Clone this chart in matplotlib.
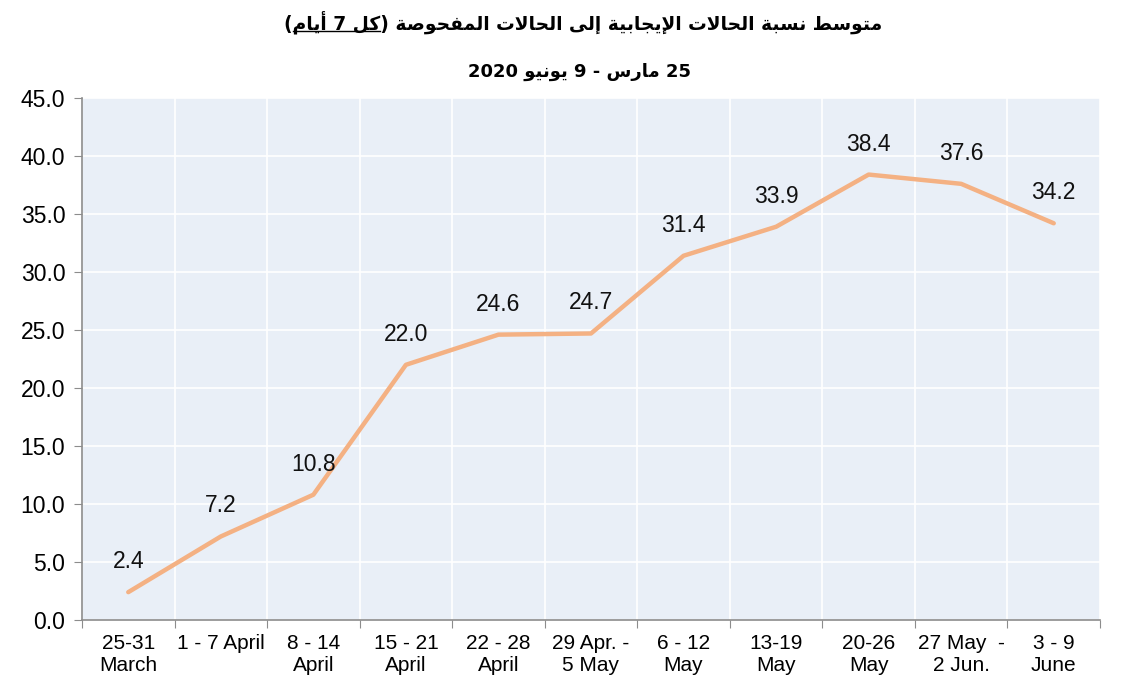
import matplotlib
matplotlib.use("Agg")
import matplotlib.pyplot as plt
from matplotlib.lines import Line2D

# data
weeks = ["25-31\nMarch", "1 - 7 April", "8 - 14\nApril", "15 - 21\nApril", "22 - 28\nApril",
         "29 Apr. -\n5 May", "6 - 12\nMay", "13-19\nMay", "20-26\nMay", "27 May  -\n2 Jun.", "3 - 9\nJune"]
ratio = [2.4, 7.2, 10.8, 22.0, 24.6, 24.7, 31.4, 33.9, 38.4, 37.6, 34.2]
yticks = [0, 5, 10, 15, 20, 25, 30, 35, 40, 45]

title_ar = "متوسط نسبة الحالات الإيجابية إلى الحالات المفحوصة (كل 7 أيام)"
title_ul = "كل 7 أيام"
subtitle_ar = "25 مارس - 9 يونيو 2020"

# minimal arabic shaping (no reshaper lib available)
FORMS = {
    "ا": (0xFE8D, 0xFE8E, None, None), "أ": (0xFE83, 0xFE84, None, None),
    "إ": (0xFE87, 0xFE88, None, None), "ب": (0xFE8F, 0xFE90, 0xFE91, 0xFE92),
    "ة": (0xFE93, 0xFE94, None, None), "ت": (0xFE95, 0xFE96, 0xFE97, 0xFE98),
    "ج": (0xFE9D, 0xFE9E, 0xFE9F, 0xFEA0), "ح": (0xFEA1, 0xFEA2, 0xFEA3, 0xFEA4),
    "د": (0xFEA9, 0xFEAA, None, None), "ر": (0xFEAD, 0xFEAE, None, None),
    "س": (0xFEB1, 0xFEB2, 0xFEB3, 0xFEB4), "ص": (0xFEB9, 0xFEBA, 0xFEBB, 0xFEBC),
    "ط": (0xFEC1, 0xFEC2, 0xFEC3, 0xFEC4), "ف": (0xFED1, 0xFED2, 0xFED3, 0xFED4),
    "ك": (0xFED9, 0xFEDA, 0xFEDB, 0xFEDC), "ل": (0xFEDD, 0xFEDE, 0xFEDF, 0xFEE0),
    "م": (0xFEE1, 0xFEE2, 0xFEE3, 0xFEE4), "ن": (0xFEE5, 0xFEE6, 0xFEE7, 0xFEE8),
    "ه": (0xFEE9, 0xFEEA, 0xFEEB, 0xFEEC), "و": (0xFEED, 0xFEEE, None, None),
    "ى": (0xFEEF, 0xFEF0, None, None), "ي": (0xFEF1, 0xFEF2, 0xFEF3, 0xFEF4),
}
LAM_ALEF = {"ا": (0xFEFB, 0xFEFC), "أ": (0xFEF7, 0xFEF8), "إ": (0xFEF9, 0xFEFA)}


def shape(s):
    # merge lam-alef first
    chars = []
    i = 0
    while i < len(s):
        if s[i] == "ل" and i + 1 < len(s) and s[i + 1] in LAM_ALEF:
            chars.append(("LA", s[i + 1]))
            i += 2
        else:
            chars.append(("C", s[i]))
            i += 1

    def joins_left(item):
        kind, c = item
        return kind == "C" and c in FORMS and FORMS[c][2] is not None

    def is_ar(item):
        return item[0] == "LA" or item[1] in FORMS

    out = ""
    for k, item in enumerate(chars):
        prev_j = k > 0 and joins_left(chars[k - 1]) and is_ar(item)
        if item[0] == "LA":
            iso, fin = LAM_ALEF[item[1]]
            out += chr(fin if prev_j else iso)
            continue
        c = item[1]
        if c not in FORMS:
            out += c
            continue
        f = FORMS[c]
        next_j = joins_left(item) and k + 1 < len(chars) and is_ar(chars[k + 1])
        if prev_j and next_j:
            out += chr(f[3])
        elif prev_j:
            out += chr(f[1])
        elif next_j:
            out += chr(f[2])
        else:
            out += chr(f[0])
    return out


def visual(s):
    s = shape(s)
    runs = []
    for ch in s:
        d = ch.isdigit()
        if runs and runs[-1][0] == d:
            runs[-1][1] += ch
        else:
            runs.append([d, ch])
    mirror = {"(": ")", ")": "("}
    res = ""
    for d, txt in reversed(runs):
        res += txt if d else "".join(mirror.get(c, c) for c in reversed(txt))
    return res


fig = plt.figure(figsize=(11.25, 6.98), dpi=100)
ax = fig.add_axes([82 / 1125, 1 - 620 / 698, 1018 / 1125, 522 / 698])
ax.set_facecolor("#E9EFF7")

x = list(range(len(weeks)))
ax.plot(x, ratio, color="#F4B183", lw=3.2, solid_capstyle="round", zorder=3)
for xi, v in zip(x, ratio):
    ax.annotate(f"{v:.1f}", (xi, v), xytext=(0, 22), textcoords="offset points",
                ha="center", va="center", fontsize=16.5, family="Liberation Sans", color="#111111")

ax.set_xlim(-0.5, len(weeks) - 0.5)
ax.set_ylim(0, 45)
ax.set_yticks(yticks)
ax.set_yticklabels([f"{t:.1f}" for t in yticks], family="Liberation Sans", fontsize=16.5)
ax.set_xticks([i - 0.5 for i in range(len(weeks) + 1)])
ax.set_xticklabels([])
ax.set_xticks(x, minor=True)
ax.set_xticklabels(weeks, minor=True, family="Liberation Sans", fontsize=15, linespacing=1.2)
ax.tick_params(axis="x", which="minor", length=0, pad=10)
ax.tick_params(axis="x", which="major", length=6, color="#8c8c8c")
ax.tick_params(axis="y", length=6, color="#8c8c8c", pad=6)
ax.grid(True, which="major", color="white", lw=1.2)
ax.set_axisbelow(True)
for side in ["top", "right"]:
    ax.spines[side].set_visible(False)
for side in ["left", "bottom"]:
    ax.spines[side].set_color("#8c8c8c")
    ax.spines[side].set_linewidth(1.2)

# titles
tfont = dict(family="DejaVu Sans", fontsize=13.4, fontweight="bold")
full = visual(title_ar)
t = fig.text(583 / 1125, 1 - 22 / 698, full, ha="center", va="center", **tfont)
fig.text(580 / 1125, 1 - 72 / 698, visual(subtitle_ar), ha="center", va="center",
         family="DejaVu Sans", fontsize=13, fontweight="bold")

# underline the "(every 7 days)" part
fig.canvas.draw()
r = fig.canvas.get_renderer()
bb = t.get_window_extent(r)
ul = visual(title_ul)
i0 = full.find(ul)
def width_of(txt):
    tmp = fig.text(0, 0, txt, **tfont)
    w = tmp.get_window_extent(r).width
    tmp.remove()
    return w
x0 = bb.x0 + width_of(full[:i0]) if i0 > 0 else bb.x0
x1 = bb.x0 + width_of(full[:i0 + len(ul)])
yline = bb.y0 + 3
fig.add_artist(Line2D([x0 / 1125, x1 / 1125], [yline / 698, yline / 698],
                      transform=fig.transFigure, color="black", lw=1))

fig.savefig("out.png", dpi=100)
